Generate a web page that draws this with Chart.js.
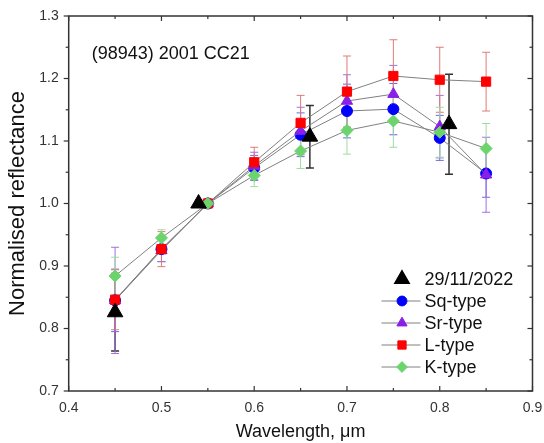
<!DOCTYPE html>
<html lang="en">
<head>
    <meta charset="utf-8">
    <title>(98943) 2001 CC21 reflectance</title>
    <script src="https://cdn.jsdelivr.net/npm/chart.js"></script>
    <style>
        body { margin: 0; background: #fff; }
    </style>
</head>
<body>
    <!-- Chart canvas element -->
    <canvas id="myChart" width="544" height="443"></canvas>
    <script>
        // Wavelength grid of the taxonomic templates (um)
        const wavelengths = [0.45, 0.50, 0.55, 0.60, 0.65, 0.70, 0.75, 0.80, 0.85]
        const sq_values = [0.845, 0.927, 1.000, 1.057, 1.110, 1.148, 1.151, 1.105, 1.048]
        const sq_err    = [0.050, 0.020, 0.000, 0.020, 0.035, 0.043, 0.041, 0.036, 0.038]
        const sr_values = [0.845, 0.925, 1.000, 1.060, 1.116, 1.164, 1.175, 1.123, 1.046]
        const sr_err    = [0.085, 0.018, 0.000, 0.022, 0.038, 0.042, 0.046, 0.050, 0.060]
        const l_values  = [0.846, 0.927, 1.000, 1.066, 1.129, 1.179, 1.204, 1.198, 1.195]
        const l_err     = [0.048, 0.028, 0.000, 0.024, 0.044, 0.057, 0.058, 0.052, 0.047]
        const k_values  = [0.884, 0.945, 1.000, 1.045, 1.084, 1.117, 1.132, 1.114, 1.088]
        const k_err     = [0.030, 0.013, 0.000, 0.018, 0.028, 0.038, 0.042, 0.040, 0.040]
        // Observation of 29/11/2022
        const obs_wavelengths = [0.45, 0.54, 0.66, 0.81]
        const obs_values = [0.826, 1.000, 1.107, 1.127]
        const obs_err    = [0.062, 0.000, 0.050, 0.080]
        // Axis ticks
        const x_ticks = [0.4, 0.5, 0.6, 0.7, 0.8, 0.9]
        const y_ticks = [0.7, 0.8, 0.9, 1.0, 1.1, 1.2, 1.3]

        const line_grey = '#808080'
        const font_family = '"Liberation Sans", Arial, sans-serif'

        function points(xs, ys) {
            return xs.map((x, i) => ({ x: x, y: ys[i] }))
        }

        const datasets = [
            {
                label: '29/11/2022', data: points(obs_wavelengths, obs_values), errors: obs_err,
                errColor: '#333333', errWidth: 1.5, showLine: false,
                pointStyle: 'triangle', pointRadius: 9, pointHoverRadius: 9,
                pointBackgroundColor: '#000', pointBorderColor: '#000', order: 0
            },
            {
                label: 'Sq-type', data: points(wavelengths, sq_values), errors: sq_err,
                errColor: '#6a6ae0', pointStyle: 'circle', pointRadius: 5.5, pointHoverRadius: 5.5,
                pointBackgroundColor: '#0000ff', pointBorderColor: '#0000ff', order: 4
            },
            {
                label: 'Sr-type', data: points(wavelengths, sr_values), errors: sr_err,
                errColor: '#a070e0', pointStyle: 'triangle', pointRadius: 6.5, pointHoverRadius: 6.5,
                pointBackgroundColor: '#8a1fe6', pointBorderColor: '#8a1fe6', order: 3
            },
            {
                label: 'L-type', data: points(wavelengths, l_values), errors: l_err,
                errColor: '#e07a7a', pointStyle: 'rect', pointRadius: 6.5, pointHoverRadius: 6.5,
                pointBackgroundColor: '#ff0000', pointBorderColor: '#ff0000', order: 2
            },
            {
                label: 'K-type', data: points(wavelengths, k_values), errors: k_err,
                errColor: '#9fdc9f', pointStyle: 'rectRot', pointRadius: 6, pointHoverRadius: 6,
                pointBackgroundColor: '#6cd46c', pointBorderColor: '#6cd46c', order: 1
            }
        ]
        datasets.forEach(d => {
            d.borderColor = line_grey
            d.borderWidth = 1
            d.pointBorderWidth = 1
            d.tension = 0
        })

        // Error bars, drawn under the markers
        const error_bars = {
            id: 'error_bars',
            beforeDatasetsDraw(chart) {
                const { ctx, scales: { x, y } } = chart
                ctx.save()
                chart.data.datasets.forEach(ds => {
                    ctx.strokeStyle = ds.errColor
                    ctx.lineWidth = ds.errWidth || 1
                    ds.data.forEach((p, i) => {
                        const e = ds.errors[i]
                        if (!e) return
                        const px = x.getPixelForValue(p.x)
                        const top = y.getPixelForValue(p.y + e)
                        const bot = y.getPixelForValue(p.y - e)
                        ctx.beginPath()
                        ctx.moveTo(px, top); ctx.lineTo(px, bot)
                        ctx.moveTo(px - 4, top); ctx.lineTo(px + 4, top)
                        ctx.moveTo(px - 4, bot); ctx.lineTo(px + 4, bot)
                        ctx.stroke()
                    })
                })
                ctx.restore()
            }
        }

        // Box around the plot with tick marks, object name and legend
        const frame = {
            id: 'frame',
            afterDraw(chart) {
                const { ctx, chartArea: a, scales: { x, y } } = chart
                ctx.save()
                ctx.strokeStyle = '#333'
                ctx.lineWidth = 1.5
                ctx.strokeRect(a.left, a.top, a.right - a.left, a.bottom - a.top)
                ctx.lineWidth = 1.2
                const seg = (x1, y1, x2, y2) => {
                    ctx.beginPath(); ctx.moveTo(x1, y1); ctx.lineTo(x2, y2); ctx.stroke()
                }
                x_ticks.forEach((v, i) => {
                    const px = x.getPixelForValue(v)
                    seg(px, a.bottom, px, a.bottom - 5)
                    seg(px, a.top, px, a.top + 5)
                    if (i < x_ticks.length - 1) {
                        const pm = x.getPixelForValue((v + x_ticks[i + 1]) / 2)
                        seg(pm, a.bottom, pm, a.bottom - 3)
                        seg(pm, a.top, pm, a.top + 3)
                    }
                })
                y_ticks.forEach((v, i) => {
                    const py = y.getPixelForValue(v)
                    seg(a.left - 5, py, a.left, py)
                    seg(a.right, py, a.right - 5, py)
                    if (i < y_ticks.length - 1) {
                        const pm = y.getPixelForValue((v + y_ticks[i + 1]) / 2)
                        seg(a.left - 3, pm, a.left, pm)
                        seg(a.right, pm, a.right - 3, pm)
                    }
                })

                ctx.fillStyle = '#111'
                ctx.font = '18px ' + font_family
                ctx.textAlign = 'left'
                ctx.textBaseline = 'alphabetic'
                ctx.fillText('(98943) 2001 CC21', a.left + 23, a.top + 43)

                // legend
                const lx = a.right - 151
                let ly = a.bottom - 112
                ctx.font = '18px ' + font_family
                ctx.textBaseline = 'middle'
                chart.data.datasets.forEach(ds => {
                    if (ds.showLine !== false) {
                        ctx.strokeStyle = line_grey
                        ctx.lineWidth = 1
                        seg(lx, ly, lx + 39, ly)
                    }
                    ctx.fillStyle = ds.pointBackgroundColor
                    ctx.strokeStyle = ds.pointBorderColor
                    Chart.helpers.drawPoint(ctx, {
                        pointStyle: ds.pointStyle,
                        radius: ds.pointRadius * (ds.showLine === false ? 0.95 : 0.9),
                        rotation: 0,
                        borderWidth: 1
                    }, lx + 20.5, ly)
                    ctx.fillStyle = '#111'
                    ctx.fillText(ds.label, lx + 43, ly + 1)
                    ly += 22
                })
                ctx.restore()
            }
        }

        const config = {
            type: 'line',
            data: { datasets: datasets },
            options: {
                responsive: false,
                animation: false,
                layout: { padding: { top: 16, right: 11.5, left: 0, bottom: 0 } },
                scales: {
                    x: {
                        type: 'linear',
                        min: 0.4,
                        max: 0.9,
                        afterFit: s => { s.height = 52; s.paddingLeft = 0; s.paddingRight = 0 },
                        afterBuildTicks: s => { s.ticks = x_ticks.map(v => ({ value: v })) },
                        grid: { display: false, drawTicks: false },
                        border: { display: false },
                        ticks: {
                            padding: 9,
                            color: '#333',
                            font: { size: 14, family: font_family },
                            callback: v => v.toFixed(1)
                        },
                        title: {
                            display: true,
                            text: 'Wavelength, \u03bcm',
                            color: '#111',
                            padding: { top: 0, bottom: 0 },
                            font: { size: 18, family: font_family }
                        }
                    },
                    y: {
                        min: 0.7,
                        max: 1.3,
                        afterFit: s => { s.width = 68.7; s.paddingTop = 0; s.paddingBottom = 0 },
                        afterBuildTicks: s => { s.ticks = y_ticks.map(v => ({ value: v })) },
                        grid: { display: false, drawTicks: false },
                        border: { display: false },
                        ticks: {
                            padding: 10,
                            color: '#333',
                            font: { size: 14, family: font_family },
                            callback: v => v.toFixed(1)
                        },
                        title: {
                            display: true,
                            text: 'Normalised reflectance',
                            color: '#111',
                            padding: { top: 5, bottom: 0 },
                            font: { size: 22, family: font_family }
                        }
                    }
                },
                plugins: {
                    legend: { display: false },
                    tooltip: { enabled: false }
                }
            },
            plugins: [error_bars, frame]
        }
        const ctx = document.getElementById('myChart').getContext('2d')
        const chart_object = new Chart(ctx, config)
    </script>
</body>
</html>
